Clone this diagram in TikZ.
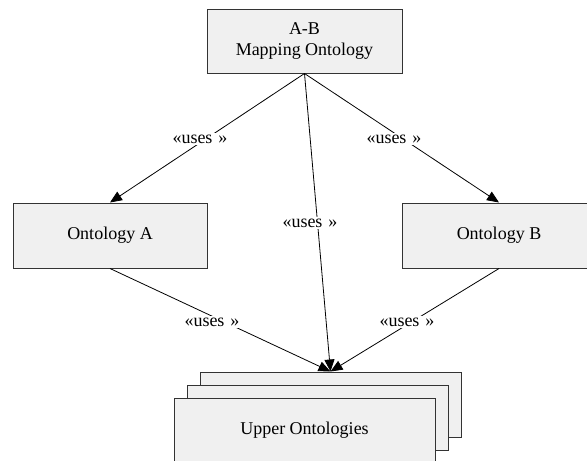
\documentclass[tikz,border=0pt]{standalone}
\usepackage{fontspec}
\setmainfont{Liberation Serif}
\usetikzlibrary{arrows.meta}
\begin{document}
\begin{tikzpicture}[x=1pt,y=-1pt,
  box/.style={draw=black!80, line width=1pt, fill=black!6, minimum width=195pt,
    minimum height=65pt, inner sep=0pt, font=\fontsize{18}{21}\selectfont, align=center},
  uses/.style={-{Triangle[length=12pt,width=10pt]}, line width=0.8pt, black},
  stereo/.style={fill=white, inner sep=1.5pt, font=\fontsize{18}{21}\selectfont}]
  \useasboundingbox (0,0) rectangle (587,461);
  \clip (0,0) rectangle (587,461);

  % ontology boxes
  \node[box, minimum height=64pt] (map) at (304.5,41) {A-B\\Mapping Ontology};
  \node[box, minimum width=194pt] (ontA) at (110,235.5) {Ontology A};
  \node[box, minimum width=194pt] (ontB) at (499,235.5) {Ontology B};

  % stacked upper ontologies
  \node[box, minimum width=261pt] (upper3) at (330.5,404.5) {};
  \node[box, minimum width=261pt] (upper2) at (317.5,417.5) {};
  \node[box, minimum width=261pt] (upper1) at (304.5,430.5) {Upper Ontologies};

  % dependencies
  \draw[uses] (map.south) -- (ontA.north);
  \draw[uses] (map.south) -- (ontB.north);
  \draw[uses] (map.south) -- (upper3.north);
  \draw[uses] (ontA.south) -- (upper3.north);
  \draw[uses] (ontB.south) -- (upper3.north);

  % stereotype labels
  \node[stereo] (l1) at (200,139) {«uses\,\,»};
  \node[stereo] (l2) at (394,139) {«uses\,\,»};
  \node[stereo] (l3) at (310,223) {«uses\,\,»};
  \node[stereo] (l4) at (212,322) {«uses\,\,»};
  \node[stereo] (l5) at (407,322) {«uses\,\,»};
\end{tikzpicture}
\end{document}
